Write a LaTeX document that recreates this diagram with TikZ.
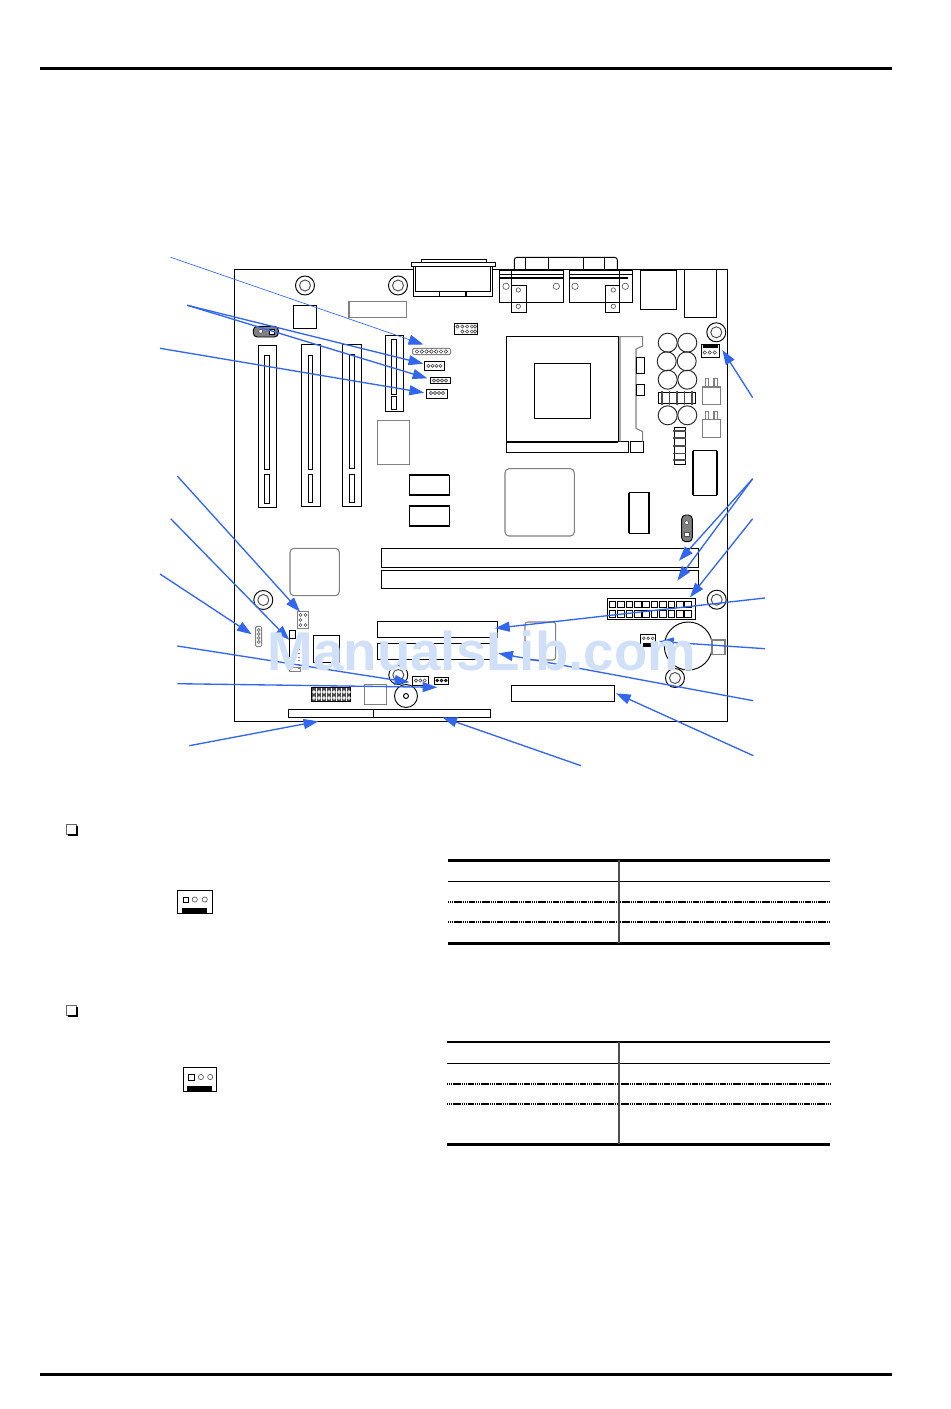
\documentclass[tikz,border=0pt]{standalone}
\usepackage{fontspec}
\usetikzlibrary{arrows.meta,fit}
\newfontfamily\markfont{Liberation Sans}
\definecolor{calloutblue}{HTML}{3366EE}
\definecolor{markblue}{HTML}{CFE0F8}
\tikzset{
	pcb/.style={line width=.7pt},
	soft/.style={line width=.8pt,color=black!50},
	thick bar/.style={line width=1.6pt},
	pin/.style={line width=.45pt,color=black!70},
	hdr/.style={draw,line width=.7pt,inner sep=0pt,outer sep=0pt},
	softhdr/.style={hdr,draw=black!50},
	callout/.style={-{Triangle[length=11pt,width=7.5pt]},color=calloutblue,line width=1pt},
	thincallout/.style={callout,line width=.5pt},
	rule/.style={line width=2.2pt},
	dotrule/.style={line width=1.3pt,dash pattern=on 1pt off .4pt}
}
\newcommand{\standoff}[2]{
	\draw[pcb] (#1,#2) circle(9.5);
	\draw[pcb,color=black!70] (#1,#2) circle(5.5);
}
\begin{document}
\begin{tikzpicture}[x=.75pt,y=-.75pt]
	\useasboundingbox (0,0) rectangle (950,1409);
	\draw[rule] (40,68.5) -- (892,68.5);
	\draw[rule] (40,1374.5) -- (892,1374.5);

	\draw[pcb] (234,269.3) rectangle (727.7,721);
	\standoff{305}{285.5}
	\standoff{398}{285.5}
	\standoff{716.3}{332.3}
	\standoff{263.3}{600}
	\standoff{716.7}{599.7}
	\standoff{675}{678}
	\standoff{398.3}{675}

	% rear panel
	\draw[pcb] (421.3,262.7) -- (421.3,259.3) -- (486.7,259.3) -- (486.7,262.7);
	\draw[pcb] (411.3,262.7) rectangle (495.7,266.7);
	\draw[pcb,fill=white] (413.7,266.7) -- (413.7,296) -- (492.3,296) -- (492.3,266.7);
	\draw[pcb] (415.7,266.7) -- (415.7,291.7) -- (490.3,291.7) -- (490.3,266.7);
	\draw[pcb] (439.3,291.7) -- (439.3,296);
	\draw[line width=1.2pt] (466,291.7) -- (466,296);
	\draw[pcb,rounded corners=2pt] (514.3,269.3) -- (514.3,257.3) -- (617.3,257.3) -- (617.3,269.3);
	\draw[pcb] (525.7,257.3) -- (525.7,269.3);
	\draw[pcb] (548.3,257.3) -- (548.3,269.3);
	\draw[pcb] (583.3,257.3) -- (583.3,269.3);
	\draw[pcb] (604.3,257.3) -- (604.3,269.3);
	\draw[pcb] (499.3,270) rectangle (563.3,302.3);
	\draw[pcb] (569.3,270) rectangle (632.7,302.3);
	\draw[pcb] (499.3,274.3) -- (563.3,274.3);
	\draw[pcb] (569.3,274.3) -- (632.7,274.3);
	\draw[line width=1.2pt] (500,277.7) -- (563.3,277.7);
	\draw[line width=1.2pt] (569.3,277.7) -- (628,277.7);
	\draw[pcb] (511.3,270) -- (511.3,312.3) -- (526.3,312.3) -- (526.3,285) -- (511.3,285);
	\draw[pcb] (619.7,270) -- (619.7,312.3) -- (605,312.3) -- (605,285) -- (619.7,285);
	\draw[pin] (506,286.3) circle(3.2);
	\draw[pin] (556.3,286.3) circle(3.2);
	\draw[pin] (575,286.3) circle(3.2);
	\draw[pin] (625.3,286.3) circle(3.2);
	\draw[pin] (518.3,290) circle(2.2);
	\draw[pin] (518.3,306.3) circle(2.2);
	\draw[pin] (613.3,290) circle(2.2);
	\draw[pin] (613.3,306.3) circle(2.2);
	\draw[pcb] (640.3,270) rectangle (676.7,309.7);
	\draw[pcb] (684.3,269.3) rectangle (716.7,317.7);

	% slots
	\draw[pcb] (258.3,345.3) rectangle (276.7,507.3);
	\draw[pcb] (264.3,355.3) rectangle (269.3,469.3);
	\draw[pcb] (264.3,474.3) rectangle (269.3,503.7);
	\draw[pcb] (301.3,344.3) rectangle (320.7,506.7);
	\draw[pcb] (308,355.3) rectangle (312.7,469.3);
	\draw[pcb] (308,474.3) rectangle (312.7,502.3);
	\draw[pcb] (342.3,344.3) rectangle (361.7,506.7);
	\draw[pcb] (349.3,354.3) rectangle (354.3,468.3);
	\draw[pcb] (349.3,474.3) rectangle (354.3,502.3);
	\draw[pcb] (385.3,335.3) rectangle (403.3,411.7);
	\draw[pcb] (391.3,339.3) rectangle (396.7,394.3);
	\draw[pcb] (391.3,396.3) rectangle (396.7,409.3);
	\draw[pcb] (381.3,548.3) rectangle (698.7,567.3);
	\draw[pcb] (381.3,570.3) rectangle (698.7,588.3);
	\draw[pcb] (377.3,621) rectangle (497.7,637.3);
	\draw[pcb] (377.3,643.3) rectangle (491,659.3);
	\draw[pcb] (288.3,709.3) rectangle (373.3,717.3);
	\draw[pcb] (373.3,709.3) rectangle (490.7,717.3);
	\draw[pcb] (511.3,685.3) rectangle (614.7,701.7);

	% chips and small parts
	\draw[pcb] (293.3,305.3) rectangle (316.3,328.3);
	\draw[soft] (349,301.7) rectangle (406.7,317.3);
	\draw[soft] (377.7,420.3) rectangle (409.7,464.3);
	\draw[soft,rounded corners=3pt] (505,468.7) rectangle (574.3,536);
	\draw[soft,rounded corners=3pt] (290,548.3) rectangle (339.3,595.7);
	\draw[soft,rounded corners=2pt] (525,660) -- (525,622) -- (555.7,622) -- (555.7,660) -- (525,660);
	\draw[pcb] (313.3,635.7) rectangle (339.3,662.7);
	\draw[soft] (364.3,684.7) rectangle (386.7,704.7);
	\draw[pcb] (409.3,475.3) rectangle (449.3,495.3);
	\draw[thick bar] (409.3,475.3) -- (449.3,475.3);
	\draw[thick bar] (409.3,495.3) -- (449.3,495.3);
	\draw[pcb] (409.3,505.7) rectangle (449.3,526);
	\draw[thick bar] (409.3,505.7) -- (449.3,505.7);
	\draw[thick bar] (409.3,526) -- (449.3,526);
	\draw[pcb] (629,492.7) rectangle (649.3,533.3);
	\draw[thick bar] (629,493) -- (629,533);
	\draw[thick bar] (649.3,493) -- (649.3,533);
	\draw[pcb] (693.3,450.7) rectangle (716.7,495.7);
	\draw[thick bar] (693.3,451) -- (693.3,495);
	\draw[thick bar] (716.7,451) -- (716.7,495);

	% crystal jumpers
	\draw[pcb,fill=black!50,rounded corners=3pt] (253.3,326.3) rectangle (278.3,337);
	\draw[pin,fill=white] (260.7,331.3) circle(2);
	\draw[pcb,fill=white] (269.5,329) rectangle (274.5,334);
	\draw[pcb,fill=black!50,rounded corners=3pt] (681.7,515) rectangle (692.3,541.7);
	\draw[pin,fill=white] (686.7,522.7) circle(2);
	\draw[pin,fill=white] (684.5,532) rectangle (689,536.5);

	% cpu socket
	\draw[pcb] (506.3,336.7) rectangle (618.3,441.7);
	\draw[pcb] (534.3,363.3) rectangle (590.3,418.3);
	\draw[pcb] (506.3,441.7) rectangle (628.3,452.3);
	\draw[pcb] (630.3,441.7) rectangle (643.7,452.3);
	\draw[thick bar] (506.3,441.7) -- (618.3,441.7);
	\draw[soft] (620,441.7) -- (620,336.7) -- (642.7,336.7) -- (642.7,346) -- (636,349) -- (636,428.3) -- (642.7,431.7) -- (642.7,441.7);
	\draw[pcb] (636.3,357.3) rectangle (644.7,373.3);
	\draw[pcb] (636.3,384.3) rectangle (644.7,395.3);

	% capacitors
	\foreach \x/\y in {667.7/342.7,687.3/342.7,666.7/361.3,686.7/361.3,667.7/379.7,687.3/379.7,667.7/415.3,687.3/415.3}
		\draw[pcb,color=black!85] (\x,\y) circle(9.5);
	\draw[pcb] (658.3,392.3) rectangle (695.7,403.7);
	\foreach \x in {661.7,669.3,676.7,684.3,691.7}
		\draw[line width=1.2pt,color=black!70] (\x,391) -- (\x,405);
	\draw[pcb] (674,427.3) rectangle (685,464.3);
	\foreach \y in {430.7,437.7,445.7,453.3,460}
		\draw[line width=1.2pt,color=black!70] (673,\y) -- (686,\y);
	\draw[soft] (702.3,387) rectangle (720.7,404.7);
	\draw[soft] (705.3,387) -- (705.3,378.7) -- (708.7,378.7) -- (708.7,387);
	\draw[soft] (714,387) -- (714,378.7) -- (717.3,378.7) -- (717.3,387);
	\draw[soft] (702.3,419.7) rectangle (720.7,437.7);
	\draw[soft] (705.3,419.7) -- (705.3,411.3) -- (708.7,411.3) -- (708.7,419.7);
	\draw[soft] (714,419.7) -- (714,411.3) -- (717.3,411.3) -- (717.3,419.7);

	% battery and buzzer
	\draw[pcb] (688.3,646) circle(24);
	\draw[soft] (712,640) rectangle (725,654.7);
	\draw[pcb] (406,696) circle(11.5);
	\draw[pcb] (406,696) circle(2.5);

	% headers
	\node[hdr,fit={(454,323.7) (477.7,334.3)}] (frontaudio) {};
	\foreach \x in {457.5,462.3,467.1,471.9,475}
		\draw[pin] (\x,326.5) circle(1.6);
	\foreach \x in {462.3,467.1,471.9,475}
		\draw[pin] (\x,331.5) circle(1.6);
	\node[softhdr,rounded corners=1pt,fit={(412.7,348.3) (450.7,354.7)}] (serialhdr) {};
	\foreach \x in {417,421.8,426.6,431.4,436.2,441,445.8}
		\draw[pin] (\x,351.5) circle(1.8);
	\node[hdr,fit={(424.3,361.3) (444.7,370.7)}] (cdhdr) {};
	\node[hdr,fit={(430.3,377.3) (450.7,383.7)}] (auxhdr) {};
	\node[hdr,fit={(426.3,389) (447.3,398.3)}] (linehdr) {};
	\foreach \x in {428.5,432.5,436.5,440.5}
		\draw[pin] (\x,365.8) circle(1.6);
	\foreach \x in {434,438,442,446}
		\draw[pin] (\x,380.5) circle(1.6);
	\foreach \x in {431,435,439,443}
		\draw[pin] (\x,393) circle(1.6);
	\node[hdr,fit={(701.3,344.3) (719,357.3)}] (cpufan) {};
	\fill (703,345) rectangle (717.5,348);
	\foreach \x in {704.8,709.8,714.8}
		\draw[pin] (\x,352.5) circle(1.7);
	\node[hdr,fit={(607.3,598.7) (695.7,619.3)}] (atxpower) {};
	\foreach \x in {609.3,617.7,...,686}
		\draw[pcb] (\x,601.3) rectangle ++(6.6,6);
	\foreach \x in {609.3,617.7,...,686}
		\draw[pcb] (\x,610.9) rectangle ++(6.6,6.4);
	\node[hdr,fit={(640.7,634.3) (655.7,646.7)}] (sysfan) {};
	\fill (643.3,643) rectangle (652.3,646.7);
	\foreach \x in {643.8,648.2,652.6}
		\draw[pin] (\x,638.3) circle(1.4);
	\node[softhdr,fit={(297.7,611.7) (308.3,628.3)}] (usbhdr) {};
	\foreach \x/\y in {300.5/615,300.5/620,300.5/625,305.5/615,305.5/625}
		\draw[pin] (\x,\y) circle(1.5);
	\node[softhdr,rounded corners=1pt,fit={(255.7,626.3) (261.7,646.7)}] (irhdr) {};
	\foreach \y in {630,634,638,642}
		\draw[pin] (258.7,\y) circle(1.5);
	\node[hdr,fit={(289.3,630) (295,638)}] (wolhdr) {};
	\draw[pcb] (289.3,638) -- (289.3,657);
	\draw[soft,dotted] (299,638) -- (299,668);
	\node[softhdr,fit={(289.3,667) (300.7,671.7)}] (tvhdr) {};
	\node[hdr,fit={(412.3,676.3) (428.7,685.7)}] (chassisfan) {};
	\foreach \x in {416,420.3,424.6}
		\draw[pin] (\x,680.5) circle(1.6);
	\node[hdr,fit={(434.3,677.7) (448.7,684.3)}] (ledhdr) {};
	\foreach \x in {437.3,441.5,445.7}
		\draw[pcb] (\x,680.5) circle(1.2);
	\node[hdr,fill=black!70,fit={(311.3,687.3) (350.7,701.7)}] (panelhdr) {};
	\foreach \x in {316.5,321.5,...,347}
		\draw[line width=.5pt,color=white] (\x,688) -- (\x,701);
	\foreach \x in {314,319,...,349}
		\draw[line width=.6pt,color=white] (\x,692) circle(1.2);
	\foreach \x in {314,319,...,349}
		\draw[line width=.6pt,color=white] (\x,698) circle(1.2);

	% free ends of the callouts
	\coordinate (fromserial) at (170.7,257.3);
	\coordinate (fromaudio) at (187.3,305.3);
	\coordinate (fromline) at (160,348.3);
	\coordinate (fromusb) at (177.3,476);
	\coordinate (fromwol) at (170.7,518.7);
	\coordinate (fromir) at (160,574);
	\coordinate (fromchassis) at (177.3,646);
	\coordinate (fromled) at (177.3,683.7);
	\coordinate (fromisa) at (189.3,745.7);
	\coordinate (fromfloppy) at (581,765.7);
	\coordinate (fromcpufan) at (752.7,397.7);
	\coordinate (fromdimm) at (752.7,478.7);
	\coordinate (fromatx) at (752.7,518.7);
	\coordinate (fromide) at (765,598);
	\coordinate (fromsysfan) at (765,648.7);
	\coordinate (fromideb) at (753.3,700.7);
	\coordinate (fromcnr) at (753.3,755.7);

	% tips of the callouts
	\coordinate (toserial) at (423.3,344.5);
	\coordinate (tocd) at (423.3,363.7);
	\coordinate (toaux) at (427.3,378.3);
	\coordinate (toline) at (424,392.7);
	\coordinate (tousb) at (300,611.7);
	\coordinate (towol) at (289.3,640);
	\coordinate (toir) at (251.7,634.3);
	\coordinate (tochassis) at (409.3,682.3);
	\coordinate (toled) at (437.3,687.3);
	\coordinate (toisa) at (318.3,721.3);
	\coordinate (tofloppy) at (442.3,717.3);
	\coordinate (tocpufan) at (722.3,350);
	\coordinate (todimma) at (679,560.7);
	\coordinate (todimmb) at (677.3,580.7);
	\coordinate (toatx) at (690,597.3);
	\coordinate (toide) at (495,628.3);
	\coordinate (tosysfan) at (659,641.5);
	\coordinate (toideb) at (498.3,653.3);
	\coordinate (tocnr) at (616,693.3);

	\draw[thincallout] (fromserial) -- (toserial);
	\draw[callout] (fromaudio) -- (tocd);
	\draw[callout] (fromaudio) -- (toaux);
	\draw[callout] (fromline) -- (toline);
	\draw[callout] (fromusb) -- (tousb);
	\draw[callout] (fromwol) -- (towol);
	\draw[callout] (fromir) -- (toir);
	\draw[callout] (fromchassis) -- (tochassis);
	\draw[callout] (fromled) -- (toled);
	\draw[callout] (fromisa) -- (toisa);
	\draw[callout] (fromfloppy) -- (tofloppy);
	\draw[callout] (fromcpufan) -- (tocpufan);
	\draw[callout] (fromdimm) -- (todimma);
	\draw[callout] (fromdimm) -- (todimmb);
	\draw[callout] (fromatx) -- (toatx);
	\draw[callout] (fromide) -- (toide);
	\draw[callout] (fromsysfan) -- (tosysfan);
	\draw[callout] (fromideb) -- (toideb);
	\draw[callout] (fromcnr) -- (tocnr);

	\node[anchor=base,inner sep=0pt,text=markblue,font=\markfont\bfseries\fontsize{41pt}{41pt}\selectfont] (watermark) at (482,670) {ManualsLib.com};

	% jumper settings
	\draw[line width=.5pt,fill=white,draw=black!60] (66.5,824.7) rectangle (76,834);
	\draw[line width=1.2pt] (77,826) -- (77,835) -- (68,835);
	\node[hdr,fit={(177.3,890) (212.4,913.7)}] (jumpa) {};
	\draw[pcb] (183.3,897.3) rectangle (188.8,902.7);
	\draw[pin] (194.8,899.5) circle(2.6);
	\draw[pin] (204.7,899.5) circle(2.6);
	\fill (182.2,908) rectangle (206.9,913.7);
	\draw[line width=.5pt,fill=white,draw=black!60] (66.5,1005.7) rectangle (76,1015);
	\draw[line width=1.2pt] (77,1007) -- (77,1016) -- (68,1016);
	\node[hdr,fit={(183.8,1067.3) (216.8,1091.7)}] (jumpb) {};
	\draw[pcb] (188.8,1074) rectangle (194.8,1080.7);
	\draw[pin] (200.9,1077) circle(2.6);
	\draw[pin] (210.2,1077) circle(2.6);
	\fill (187,1086) rectangle (212.4,1091.7);

	% tables
	\draw[rule] (448,860.3) -- (830,860.3);
	\draw[line width=1pt] (448,881.7) -- (830,881.7);
	\draw[dotrule] (448,901.7) -- (830,901.7);
	\draw[dotrule] (448,921.7) -- (830,921.7);
	\draw[rule] (448,943.3) -- (830,943.3);
	\draw[line width=1pt,color=black!70] (619,860.3) -- (619,943.3);
	\draw[rule] (447,1042) -- (830,1042);
	\draw[line width=1pt] (447,1063.3) -- (830,1063.3);
	\draw[dotrule] (447,1084) -- (830,1084);
	\draw[dotrule] (447,1104) -- (830,1104);
	\draw[rule] (447,1144.3) -- (830,1144.3);
	\draw[line width=1pt,color=black!70] (619,1042) -- (619,1144.3);
\end{tikzpicture}
\end{document}
